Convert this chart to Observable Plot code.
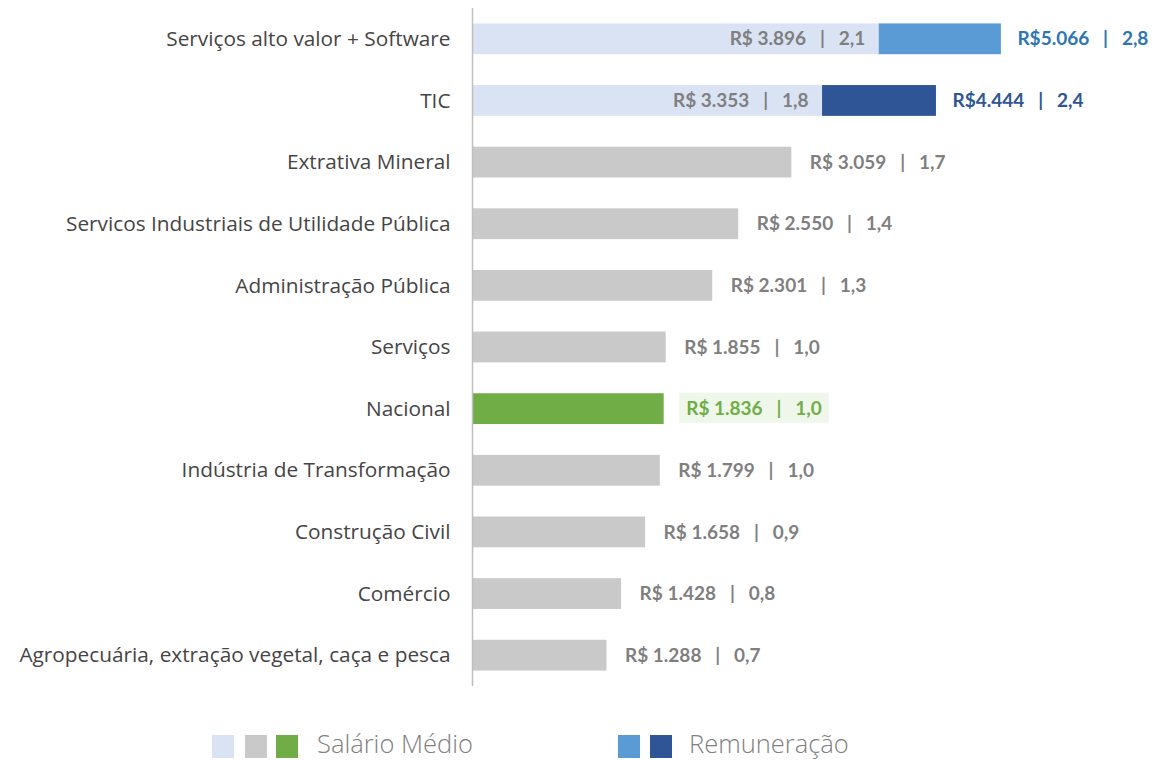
<!DOCTYPE html>
<html><head><meta charset="utf-8">
<script src="https://cdn.jsdelivr.net/npm/d3@7"></script>
<script src="https://cdn.jsdelivr.net/npm/@observablehq/plot@0.6"></script>
<style>
body{margin:0;background:#fff;}
#chart{position:relative;width:1153px;height:760px;overflow:hidden;}
.legend{position:absolute;top:735px;left:0;width:1153px;height:24px;font-family:"Open Sans",sans-serif;}
.sw{position:absolute;top:0;width:22px;height:23px;}
.lt{position:absolute;top:-9px;font-size:25.5px;color:#808080;white-space:nowrap;font-weight:300;}
</style></head><body><div id="chart"></div>
<script>
const categories = [
  "Serviços alto valor + Software",
  "TIC",
  "Extrativa Mineral",
  "Servicos Industriais de Utilidade Pública",
  "Administração Pública",
  "Serviços",
  "Nacional",
  "Indústria de Transformação",
  "Construção Civil",
  "Comércio",
  "Agropecuária, extração vegetal, caça e pesca"
];
const salario = [3896, 3353, 3059, 2550, 2301, 1855, 1836, 1799, 1658, 1428, 1288];
const remuneracaoCategories = ["Serviços alto valor + Software", "TIC"];
const remuneracao = [5066, 4444];
const legendSalario = "Salário Médio";
const legendRemuneracao = "Remuneração";

const loc = d3.formatLocale({decimal: ",", thousands: ".", grouping: [3], currency: ["R$", ""]});
const fInt = loc.format(",d");
const fRat = loc.format(".1f");
const nacional = salario[categories.indexOf("Nacional")];
const SEP = "\u00a0\u00a0 |\u00a0\u00a0 ";

const rows = categories.map((c, i) => ({
  cat: c,
  sal: salario[i],
  kind: remuneracaoCategories.includes(c) ? "alto" : (c === "Nacional" ? "nac" : "outro")
}));
const remRows = remuneracaoCategories.map((c, i) => ({
  cat: c, sal: salario[categories.indexOf(c)], rem: remuneracao[i], k: i
}));

const salFill = {alto: "#dae3f3", nac: "#70ad47", outro: "#c9c9c9"};
const remFill = ["#5b9bd5", "#2f5597"];
const remText = ["#2e75b6", "#2f5597"];
const salLabel = d => "R$ " + fInt(d.sal) + SEP + fRat(d.sal / nacional);
const remLabel = d => "R$" + fInt(d.rem) + SEP + fRat(d.rem / nacional);
const VF = "Lato, Carlito, sans-serif";
const VS = 19;

const plot = Plot.plot({
  width: 1153,
  height: 700,
  marginLeft: 472,
  marginRight: 0,
  marginTop: 8,
  marginBottom: 14,
  style: {fontFamily: "Open Sans, sans-serif", color: "#404040", background: "transparent", overflow: "visible"},
  x: {domain: [0, 6523], axis: null},
  y: {domain: categories, paddingInner: 0.5, paddingOuter: 0.25, round: false, label: null},
  color: {type: "identity"},
  marks: [
    Plot.axisY({tickSize: 0, tickPadding: 22, fontSize: 20.8, label: null, fill: "#454545"}),
    Plot.barX(rows, {x: "sal", y: "cat", fill: d => salFill[d.kind]}),
    Plot.barX(remRows, {x1: "sal", x2: "rem", y: "cat", fill: d => remFill[d.k]}),
    Plot.ruleX([0], {stroke: "#bfbfbf", strokeWidth: 1.5}),
    Plot.text(rows.filter(d => d.kind === "outro"), {
      x: "sal", y: "cat", text: salLabel, textAnchor: "start", dx: 18,
      fill: "#7f7f7f", fontWeight: "bold", fontSize: VS, fontFamily: VF
    }),
    Plot.text(rows.filter(d => d.kind === "nac"), {
      x: "sal", y: "cat", text: salLabel, textAnchor: "start", dx: 22,
      fill: "#70ad47", fontWeight: "bold", fontSize: VS, fontFamily: VF
    }),
    Plot.text(rows.filter(d => d.kind === "alto"), {
      x: "sal", y: "cat", text: salLabel, textAnchor: "end", dx: -14,
      fill: "#7f7f7f", fontWeight: "bold", fontSize: VS, fontFamily: VF
    }),
    Plot.text(remRows, {
      x: "rem", y: "cat", text: remLabel, textAnchor: "start", dx: 16,
      fill: d => remText[d.k], fontWeight: "bold", fontSize: VS, fontFamily: VF
    })
  ]
});

const chart = document.getElementById("chart");
chart.appendChild(plot);

// light green background behind the national label
const nacText = salLabel(rows.find(d => d.kind === "nac"));
const t = [...plot.querySelectorAll("text")].find(e => e.textContent === nacText);
if (t) {
  const bb = t.getBBox();
  const cy = bb.y + bb.height / 2;
  const r = document.createElementNS("http://www.w3.org/2000/svg", "rect");
  r.setAttribute("x", bb.x - 7);
  r.setAttribute("y", cy - 15);
  r.setAttribute("width", bb.width + 14);
  r.setAttribute("height", 30);
  r.setAttribute("fill", "#eff6ea");
  if (t.getAttribute("transform")) r.setAttribute("transform", t.getAttribute("transform"));
  t.parentNode.insertBefore(r, t);
}

// legend
const legend = document.createElement("div");
legend.className = "legend";
const items = [
  {left: 212, color: salFill.alto}, {left: 245, color: salFill.outro}, {left: 276, color: salFill.nac},
  {left: 618, color: remFill[0]}, {left: 650, color: remFill[1]}
];
items.forEach(it => {
  const s = document.createElement("div");
  s.className = "sw"; s.style.left = it.left + "px"; s.style.background = it.color;
  legend.appendChild(s);
});
[[317, legendSalario], [689, legendRemuneracao]].forEach(([l, txt]) => {
  const s = document.createElement("div");
  s.className = "lt"; s.style.left = l + "px"; s.textContent = txt;
  legend.appendChild(s);
});
chart.appendChild(legend);
</script></body></html>
